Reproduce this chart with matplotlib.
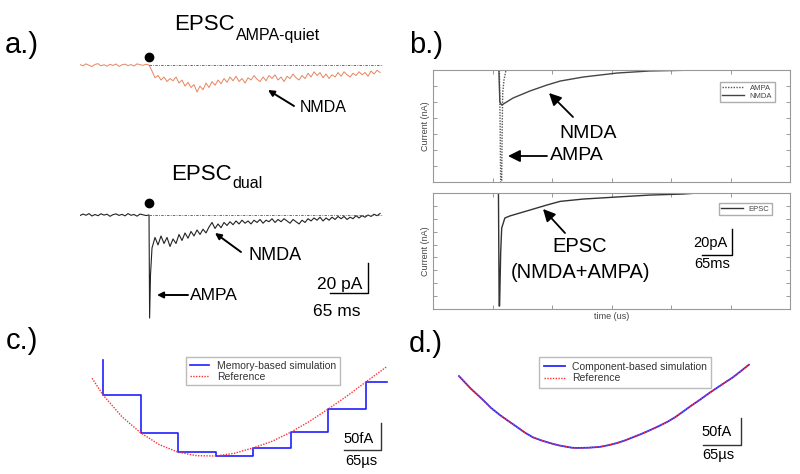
import numpy as np
import matplotlib
matplotlib.use("Agg")
import matplotlib.pyplot as plt

plt.rcParams['font.family'] = ['Liberation Sans', 'DejaVu Sans']

W, H = 800, 474

# ---------------- panel a: recorded traces (pA vs ms) ----------------
DT_A = 5.13          # ms between samples
STIM_A = 118.0       # stimulus time (ms)
POST_T0 = 123.1      # first sample after stimulus
DOT_QUIET, DOT_DUAL = 5.3, 8.0
QUIET_PRE = [0.3, -0.5, 0.8, -0.2, -1.0, 0.4, 0.9, -0.6, 0.2, -0.8, 0.5, -0.3,
             0.7, -0.9, 0.1, 0.6, -0.4, 0.3, -0.7, 0.8, 0.2, -0.2, 0.5, 0.0]
QUIET_POST = [-4, -8.5, -7, -10, -8, -11, -9, -10.5, -8, -12,
              -10, -14, -11.5, -15, -13, -18, -14, -16.5, -12, -15,
              -11, -13.5, -10, -12.5, -9, -11.5, -8, -10.5, -7.5, -11,
              -9, -12, -8.5, -10, -7, -9.5, -11, -8, -10.5, -7,
              -9, -6.5, -10, -8, -11, -7.5, -9, -6, -8.5, -10,
              -7, -9, -5.5, -8, -4.5, -7, -5, -8.5, -6, -9,
              -6.5, -8, -5, -7.5, -4.5, -6.5, -8, -5.5, -7, -4.5,
              -6.5, -5, -7.5, -4, -6, -3.5, -5]
DUAL_PRE = [-0.4, 0.6, -0.2, 0.9, -0.7, 0.3, -0.5, 0.8, -0.1, 0.5, -0.9, 0.2,
            0.7, -0.3, 0.4, -0.6, 0.9, -0.2, 0.3, -0.8, 0.6, 0.1, -0.4, 0.0]
DUAL_SPIKE_T = [119.0, 120.5]
DUAL_SPIKE_I = [-68.7, -40.0]
DUAL_POST = [-22, -15, -20, -14, -19, -15, -21, -16, -19, -13,
             -17, -12, -15.5, -11, -14, -10, -13, -9.5, -12, -8,
             -5, -9, -6, -8.5, -5, -7, -4.5, -6.5, -4, -6,
             -3.5, -5.5, -4, -6, -3.5, -5, -3, -5.5, -3.5, -4.5,
             -2.5, -5, -3, -4.5, -2.5, -4, -5.5, -3, -4.5, -6,
             -3.5, -5, -2.5, -4, -2, -3.5, -1.5, -4, -2, -3.5,
             -1.5, -3, -1, -2.5, -1, -3, -1.5, -2.5, -0.5, -2,
             -0.5, -1.5, 0, -1, 0.5, -0.5, 1]
A_TMAX = 518.0

# ---------------- panel b: simulated currents (nA vs time) ----------------
NMDA_T = [0, 144, 146, 150, 175, 212, 249, 278, 328, 402, 474, 583, 612]
NMDA_I = [0, 0, -0.020, -0.0219, -0.0175, -0.0131, -0.0094, -0.0069, -0.0044,
          -0.0019, -0.0006, 0, 0]
AMPA_T = [0, 145, 146.5, 148, 149.5, 151, 152.3, 155.1, 159.5, 612]
AMPA_I = [0, 0, -0.03, -0.075, -0.085, -0.04, -0.0144, -0.0063, 0, 0]
EPSC_T = [0, 143, 144.5, 145.5, 147.9, 150.1, 157, 168, 212, 249, 278, 328,
          402, 474, 546, 579]
EPSC_I = [0, 0, -0.0877, -0.0877, -0.0458, -0.0272, -0.0194, -0.0178, -0.0132,
          -0.0093, -0.0065, -0.0047, -0.0031, -0.0016, -0.0008, 0]

# ---------------- panel c: memory-based (sample & hold) vs reference ----------------
REF_C_T = [-19, 0, 32.5, 65, 97.5, 130, 162.5, 195, 227.5, 260, 292.5, 325,
           357.5, 390, 422.5, 455, 491]
REF_C_I = [144, 113, 73, 43, 21, 7, 0.5, 0, 5, 15, 27, 44, 64, 87, 111, 137, 165]
MEM_C_T = [0, 0, 65, 130, 195, 260, 325, 390, 455, 491]
MEM_C_I = [178, 113, 43, 7, 0, 15, 44, 87, 137, 137]

# ---------------- panel d: component-based vs reference ----------------
D_T = [0, 20, 41, 55, 70, 85, 99, 112, 126, 141, 156, 170, 185, 193, 202, 222,
       241, 255, 270, 284, 298, 312, 327, 341, 356, 370, 383, 397, 412, 426,
       441, 455, 469, 482, 496]
D_I = [133, 110, 89, 74, 61, 49.5, 39, 29, 20, 14, 9, 5, 2, 0.5, 0, 0.5,
       2, 5, 9, 14, 20, 26, 33, 40, 48, 57, 67, 78, 89, 100,
       111, 121, 131, 142, 154]


def box(x0, y0, x1, y1):
    return [x0 / W, 1 - y1 / H, (x1 - x0) / W, (y1 - y0) / H]


def fxy(x, y):
    return (x / W, 1 - y / H)


fig = plt.figure(figsize=(W / 100, H / 100), dpi=100)


def txt(x, y, s, size, ha='left', va='baseline', **kw):
    fig.text(*fxy(x, y), s, fontsize=size, ha=ha, va=va, **kw)


def arrow(tip, tail, ms=10, lw=1.4):
    fig.add_artist(matplotlib.patches.FancyArrowPatch(
        fxy(*tail), fxy(*tip), transform=fig.transFigure, arrowstyle='-|>',
        mutation_scale=ms, lw=lw, color='k', shrinkA=0, shrinkB=0))


# panel labels
txt(5, 53, 'a.)', 21)
txt(409, 53, 'b.)', 21)
txt(6, 349, 'c.)', 21)
txt(409, 352, 'd.)', 21)

# ---- a top: AMPA-quiet ----
t_pre = np.arange(len(QUIET_PRE)) * DT_A
t_post = POST_T0 + np.arange(len(QUIET_POST)) * DT_A
ax = fig.add_axes(box(80, 50, 383, 100))
ax.plot(np.r_[t_pre, t_post], np.r_[QUIET_PRE, QUIET_POST], color='#e8845e', lw=0.7)
ax.plot([STIM_A, A_TMAX], [0, 0], color='#555555', lw=0.6, ls=(0, (3, 1.5, 1, 1.5)))
ax.plot(STIM_A, DOT_QUIET, 'o', color='k', ms=6)
ax.set_xlim(0, A_TMAX)
ax.set_ylim(-23.3, 10)
ax.axis('off')
txt(235, 30, 'EPSC', 16, ha='right')
txt(235.5, 40, 'AMPA-quiet', 11.5)
txt(300, 108, 'NMDA', 11.5, va='center')
arrow((268, 90), (294, 106), ms=9, lw=1.4)

# ---- a bottom: dual ----
t_pre = np.arange(len(DUAL_PRE)) * DT_A
t_post = POST_T0 + np.arange(len(DUAL_POST)) * DT_A
ax = fig.add_axes(box(80, 195, 383, 320))
ax.plot(np.r_[t_pre, DUAL_SPIKE_T, t_post], np.r_[DUAL_PRE, DUAL_SPIKE_I, DUAL_POST],
        color='#222222', lw=0.8)
ax.plot([STIM_A, A_TMAX], [0, 0], color='#555555', lw=0.6, ls=(0, (3, 1.5, 1, 1.5)))
ax.plot(STIM_A, DOT_DUAL, 'o', color='k', ms=6)
bar_t, bar_i = 492.5, -52
ax.plot([bar_t - 65, bar_t, bar_t], [bar_i, bar_i, bar_i + 20], color='k', lw=1.0)
ax.set_xlim(0, A_TMAX)
ax.set_ylim(-70, 13.3)
ax.axis('off')
txt(232, 180, 'EPSC', 16, ha='right')
txt(232.5, 188, 'dual', 11.5)
txt(248, 256, 'NMDA', 13, va='center')
arrow((215, 233), (241, 252), ms=9, lw=1.4)
txt(190, 296, 'AMPA', 12.5, va='center')
arrow((157, 295), (188, 295), ms=9, lw=1.4)
txt(362, 284, '20 pA', 12.5, ha='right', va='center')
txt(337, 312, '65 ms', 12.5, ha='center', va='center')


# ---- b ----
def style_b(ax, ylo):
    ax.set_xlim(0, 780)
    ax.set_ylim(ylo, 0)
    ax.set_xticks(np.arange(0, 781, 130))
    ax.set_yticks(np.arange(ylo, 0.0001, 0.01))
    ax.tick_params(direction='in', length=3, width=0.6, color='#888888',
                   top=True, right=True, labelbottom=False, labelleft=False)
    for s in ax.spines.values():
        s.set_color('#999999')
        s.set_linewidth(0.8)
    ax.set_ylabel('Current (nA)', fontsize=6.5, color='#444444', labelpad=2)


axb1 = fig.add_axes(box(433, 70, 790, 182))
axb1.plot(AMPA_T, AMPA_I, color='#555555', lw=1.0, ls=(0, (1, 1)), label='AMPA')
axb1.plot(NMDA_T, NMDA_I, color='#444444', lw=1.0, label='NMDA')
style_b(axb1, -0.07)
axb1.legend(loc='upper left', bbox_to_anchor=fxy(720, 82), bbox_transform=fig.transFigure,
            fontsize=5.5, frameon=True, fancybox=False, edgecolor='#999999',
            borderpad=0.3, labelspacing=0.1, handlelength=2.8, handletextpad=0.8,
            borderaxespad=0, labelcolor='#444444')
txt(588, 134, 'NMDA', 14, ha='center', va='center')
arrow((549, 93), (573, 117), ms=18, lw=1.3)
txt(550, 156, 'AMPA', 14, va='center')
arrow((508, 156), (547, 156), ms=18, lw=1.3)

axb2 = fig.add_axes(box(433, 193, 790, 309))
axb2.plot(EPSC_T, EPSC_I, color='#333333', lw=1.0, label='EPSC')
sb_t, sb_i = 653, -0.048
axb2.plot([sb_t - 65, sb_t, sb_t], [sb_i, sb_i, sb_i + 0.02], color='k', lw=1.0)
style_b(axb2, -0.09)
axb2.set_xlabel('time (us)', fontsize=6.5, color='#444444', labelpad=2)
axb2.legend(loc='upper left', bbox_to_anchor=fxy(719, 203), bbox_transform=fig.transFigure,
            fontsize=5.5, frameon=True, fancybox=False, edgecolor='#999999',
            borderpad=0.3, labelspacing=0.1, handlelength=2.8, handletextpad=0.8,
            borderaxespad=0, labelcolor='#444444')
txt(580, 247, 'EPSC', 14.5, ha='center', va='center')
txt(581, 273, '(NMDA+AMPA)', 14.5, ha='center', va='center')
arrow((543, 209), (565, 233), ms=18, lw=1.3)
txt(728, 243, '20pA', 10.5, ha='right', va='center')
txt(712, 257, '65ms', 10.5, ha='center', va='top')

# ---- c ----
axc = fig.add_axes(box(85, 355, 390, 465))
axc.plot(MEM_C_T, MEM_C_I, drawstyle='steps-post', color='#1f1fff', lw=1.2,
         label='Memory-based simulation')
axc.plot(REF_C_T, REF_C_I, color='#ff3030', lw=1.0, ls=(0, (1, 1)), label='Reference')
sc_t, sc_i = 482, 11
axc.plot([sc_t - 65, sc_t, sc_t], [sc_i, sc_i, sc_i + 50], color='#333333', lw=1.0)
axc.set_xlim(-31.2, 497)
axc.set_ylim(-16.7, 187)
axc.axis('off')
axc.legend(loc='upper left', bbox_to_anchor=fxy(186, 357), bbox_transform=fig.transFigure,
           fontsize=7.5, frameon=True, fancybox=False, edgecolor='#aaaaaa',
           borderpad=0.35, labelspacing=0.1, handlelength=1.9, handletextpad=0.7,
           borderaxespad=0, labelcolor='#333333')
txt(374, 439, '50fA', 10.5, ha='right', va='center')
txt(361, 461, '65\u00b5s', 10.5, ha='center', va='center')

# ---- d ----
axd = fig.add_axes(box(455, 355, 760, 465))
axd.plot(D_T, D_I, color='#2a2aff', lw=1.3, label='Component-based simulation')
axd.plot(D_T, D_I, color='#ff3030', lw=1.0, ls=(0, (1, 1)), label='Reference')
sd_t, sd_i = 482, 5.6
axd.plot([sd_t - 65, sd_t, sd_t], [sd_i, sd_i, sd_i + 50], color='#333333', lw=1.0)
axd.set_xlim(-6.8, 515)
axd.set_ylim(-31.5, 172)
axd.axis('off')
axd.legend(loc='upper left', bbox_to_anchor=fxy(539, 357), bbox_transform=fig.transFigure,
           fontsize=7.5, frameon=True, fancybox=False, edgecolor='#aaaaaa',
           borderpad=0.45, labelspacing=0.15, handlelength=2.0, handletextpad=0.7,
           borderaxespad=0, labelcolor='#333333')
txt(732, 432, '50fA', 10.5, ha='right', va='center')
txt(718, 455, '65\u00b5s', 10.5, ha='center', va='center')

fig.savefig('out.png', dpi=100)
